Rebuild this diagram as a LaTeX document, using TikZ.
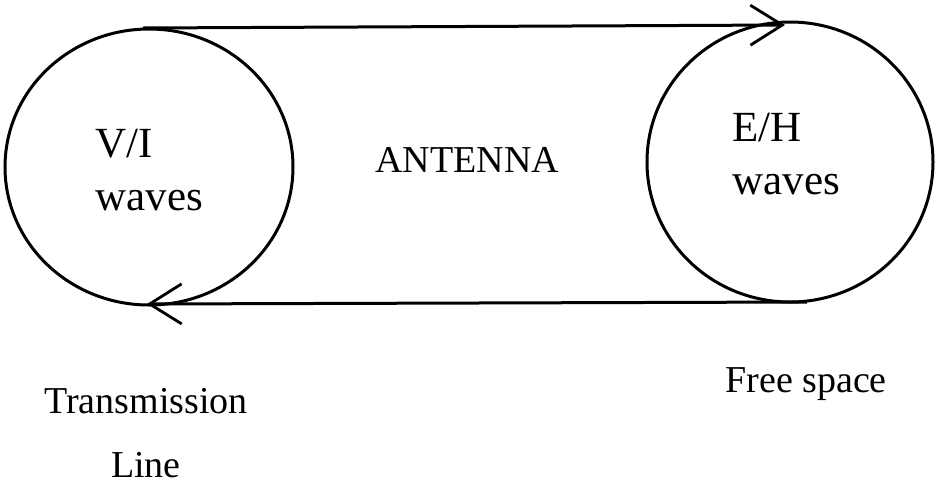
\documentclass[tikz,border=0pt]{standalone}
\usepackage{fontspec}
\setmainfont{Liberation Serif}
\usetikzlibrary{shapes.geometric,arrows.meta}
\begin{document}
\begin{tikzpicture}[x=0.5pt,y=-0.5pt,
  wavecircle/.style={draw,ellipse,line width=1.5pt,inner sep=0pt},
  flow/.style={line width=1.5pt,-{Straight Barb[length=16pt,width=20pt,line width=1.4pt]}},
  big/.style={font=\fontsize{21.5}{26.3}\selectfont,inner sep=0pt},
  small/.style={font=\fontsize{19}{32}\selectfont,inner sep=0pt}]
\useasboundingbox (0,0) rectangle (938,483);
\node[wavecircle,minimum width=144pt,minimum height=138pt] (L) at (149,167) {};
\node[wavecircle,minimum width=143pt,minimum height=140pt] (R) at (790,162) {};
\coordinate (ts) at (143,28);
\coordinate (te) at (785,25);
\coordinate (bs) at (807,302);
\coordinate (be) at (147,304);
\draw[flow] (ts) -- (te);
\draw[flow] (bs) -- (be);
\node[big,anchor=base west,align=left] (vi) at (95,210) {V/I\\waves};
\node[big,anchor=base west,align=left] (eh) at (732,194) {E/H\\waves};
\node[small,anchor=base west] (ant) at (375,172) {ANTENNA};
\node[small,anchor=base,align=center] (tl) at (146,477) {Transmission\\Line};
\node[small,anchor=base west] (fs) at (725,392) {Free space};
\end{tikzpicture}
\end{document}
